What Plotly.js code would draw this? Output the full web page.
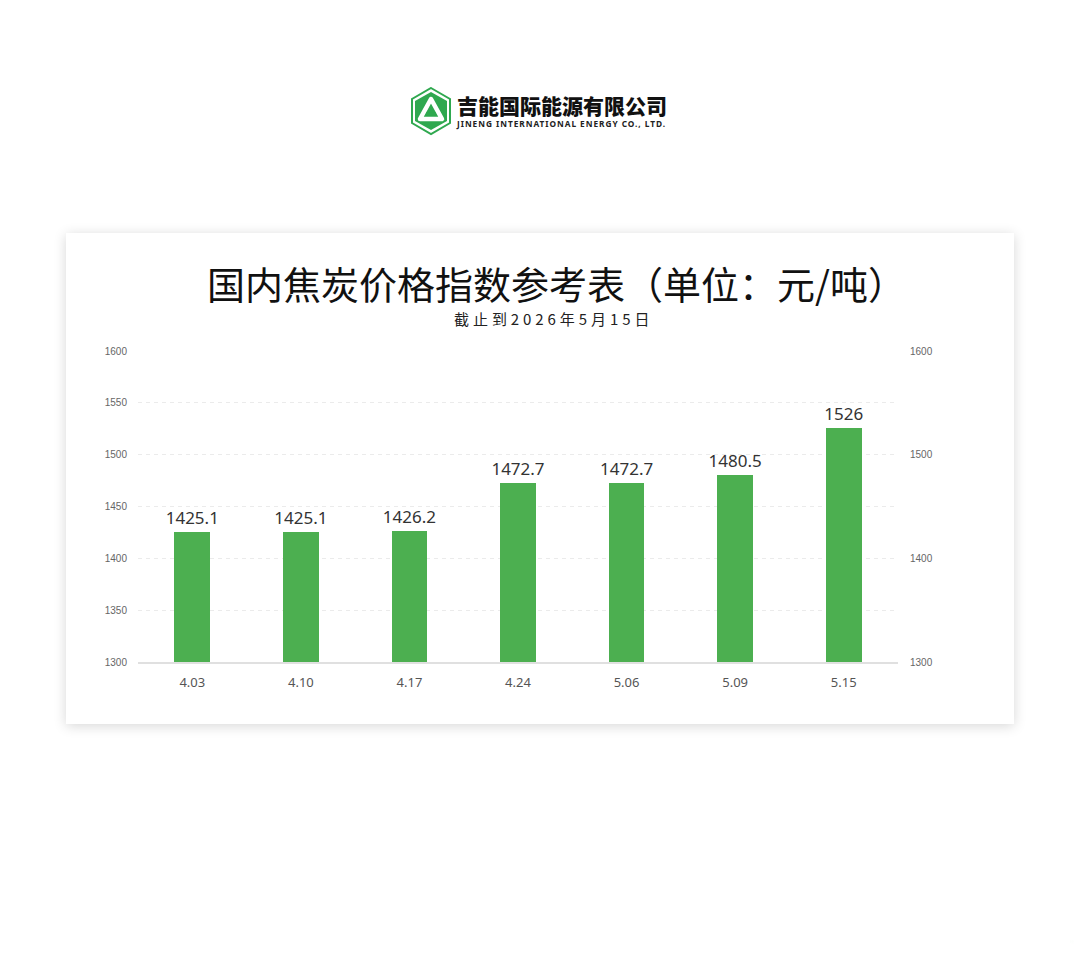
<!DOCTYPE html>
<html>
<head>
<meta charset="utf-8">
<script src="https://cdn.plot.ly/plotly-3.0.1.min.js"></script>
<style>
  html, body { margin: 0; padding: 0; background: #fff; width: 1080px; height: 957px; overflow: hidden; }
  #logo { position: absolute; left: 409px; top: 87px; width: 270px; height: 50px; }
  #card { position: absolute; left: 66px; top: 233px; width: 948px; height: 491px; background: #fff;
          box-shadow: 0 2px 12px rgba(0,0,0,0.16); }
  #chart { width: 948px; height: 491px; }
  #fx { position: absolute; left: 1070px; top: 940px; width: 4px; height: 4px; }
  #chart .barlayer .trace path { fill: url(#barGrad) !important; }
</style>
</head>
<body>
<svg id="fx" width="4" height="4" xmlns="http://www.w3.org/2000/svg">
  <defs>
    <linearGradient id="barGrad" x1="0" y1="0" x2="0" y2="1">
      <stop offset="0" stop-color="#4caf50"/>
      <stop offset="0.58" stop-color="#4caf50"/>
      <stop offset="0.8" stop-color="#9dd39f"/>
      <stop offset="1" stop-color="#f4faf4"/>
    </linearGradient>
  </defs>
  <rect width="4" height="4" fill="url(#barGrad)" opacity="0.01"/>
</svg>
<svg id="logo" viewBox="0 0 270 50" xmlns="http://www.w3.org/2000/svg">
  <polygon points="22,1 41,12 41,36 22,47 3,36 3,12" fill="#fff" stroke="#2fa84f" stroke-width="2"/>
  <polygon points="22,5 38,14 38,34 22,43 6,34 6,14" fill="#2fa84f"/>
  <path d="M22,12 L33,32 L11,32 Z" fill="none" stroke="#fff" stroke-width="4.5" stroke-linejoin="round"/>
  <path d="M17,27 L27,27" stroke="#2fa84f" stroke-width="3"/>
  <text x="48" y="27" font-family="Noto Sans CJK SC" font-weight="900" font-size="21" fill="#111">吉能国际能源有限公司</text>
  <text x="48" y="40" font-family="Noto Sans, DejaVu Sans" font-weight="700" font-size="8.3" fill="#222" textLength="208" lengthAdjust="spacing">JINENG INTERNATIONAL ENERGY CO., LTD.</text>
</svg>
<div id="card"><div id="chart"></div></div>
<script>
const categories = ["4.03", "4.10", "4.17", "4.24", "5.06", "5.09", "5.15"];
const prices = [1425.1, 1425.1, 1426.2, 1472.7, 1472.7, 1480.5, 1526];
const leftTicks = [1300, 1350, 1400, 1450, 1500, 1550, 1600];
const rightTicks = [1300, 1400, 1500, 1600];
const titleText = "国内焦炭价格指数参考表（单位：元/吨）";
const subtitleText = "截止到2026年5月15日";

const traces = [
  {
    type: "bar",
    x: categories,
    y: prices,
    width: 0.33,
    marker: { color: "#4caf50" },
    text: prices.map(v => String(v)),
    textposition: "outside",
    constraintext: "none",
    textfont: { family: "Noto Sans, Open Sans, sans-serif", size: 17, color: "#333" },
    cliponaxis: false,
    hoverinfo: "none"
  },
  {
    type: "bar",
    x: categories,
    y: prices.map(() => null),
    yaxis: "y2",
    showlegend: false,
    hoverinfo: "none"
  }
];

const plotH = 491 - 118 - 62;
function pyToPaper(py) { return (491 - 62 - py) / plotH; }

const layout = {
  width: 948, height: 491,
  margin: { l: 72, r: 116, t: 118, b: 62 },
  paper_bgcolor: "#fff", plot_bgcolor: "#fff",
  showlegend: false,
  bargap: 0,
  xaxis: {
    type: "category",
    showgrid: false,
    showline: true, linecolor: "#e0e0e0", linewidth: 1.5,
    ticks: "",
    tickfont: { family: "Noto Sans, Open Sans, sans-serif", size: 13, color: "#555" },
    ticklabelstandoff: 8
  },
  yaxis: {
    range: [1300, 1600],
    tickvals: leftTicks,
    showgrid: true, gridcolor: "#ebebeb", griddash: "4px,4px", gridwidth: 1,
    zeroline: false, showline: false, ticks: "",
    tickfont: { family: "Liberation Sans, Arial, sans-serif", size: 10, color: "#666" },
    ticklabelstandoff: 10
  },
  yaxis2: {
    range: [1300, 1600],
    tickvals: rightTicks,
    overlaying: "y", side: "right",
    showgrid: false, zeroline: false, showline: false, ticks: "",
    tickfont: { family: "Liberation Sans, Arial, sans-serif", size: 10, color: "#666" },
    ticklabelstandoff: 11
  },
  annotations: [
    { text: titleText, xref: "paper", yref: "paper", x: 0.55, y: pyToPaper(50), yanchor: "middle",
      xanchor: "center", showarrow: false,
      font: { family: "Noto Sans CJK SC, sans-serif", size: 38, color: "#111" } },
    { text: subtitleText.split("").join("\u2009\u200a"), xref: "paper", yref: "paper", x: 0.545, y: pyToPaper(86), yanchor: "middle",
      xanchor: "center", showarrow: false,
      font: { family: "Noto Sans CJK SC, sans-serif", size: 15, color: "#222" } }
  ]
};

const ns = "http://www.w3.org/2000/svg";
function addGradient(gd) {
  const svg = gd.querySelector("svg.main-svg");
  if (!svg) return;
  let defs = svg.querySelector("defs");
  if (!defs) { defs = document.createElementNS(ns, "defs"); svg.insertBefore(defs, svg.firstChild); }
  if (!defs.querySelector("#barGradP")) {
    const grad = document.createElementNS(ns, "linearGradient");
    grad.setAttribute("id", "barGradP");
    grad.setAttribute("x1", "0"); grad.setAttribute("y1", "0");
    grad.setAttribute("x2", "0"); grad.setAttribute("y2", "1");
    [["0", "#4caf50"], ["0.58", "#4caf50"], ["0.8", "#9dd39f"], ["1", "#f4faf4"]].forEach(([off, col]) => {
      const s = document.createElementNS(ns, "stop");
      s.setAttribute("offset", off);
      s.setAttribute("stop-color", col);
      grad.appendChild(s);
    });
    defs.appendChild(grad);
  }
  gd.querySelectorAll(".barlayer .trace path").forEach(p => {
    p.style.setProperty("fill", "url(#barGradP)", "important");
  });
}

const gdEl = document.getElementById("chart");
Plotly.newPlot(gdEl, traces, layout, { staticPlot: true, displayModeBar: false });
addGradient(gdEl);
if (gdEl.on) gdEl.on("plotly_afterplot", () => addGradient(gdEl));
setTimeout(() => addGradient(gdEl), 30);
setTimeout(() => addGradient(gdEl), 200);
</script>
</body>
</html>
